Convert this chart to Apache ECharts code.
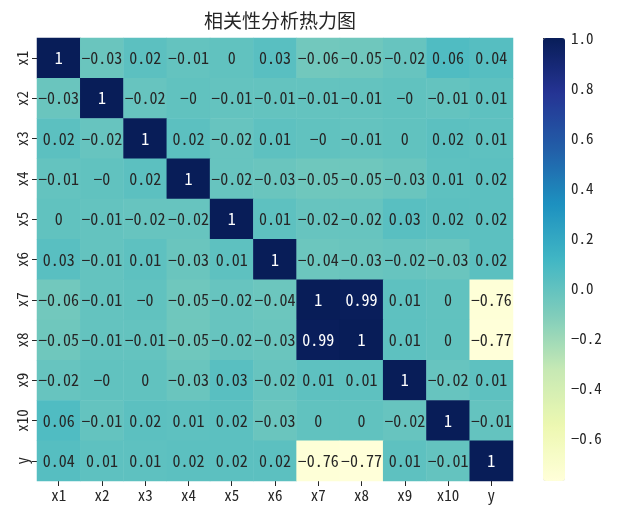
<!DOCTYPE html>
<html>
<head>
<meta charset="utf-8">
<script src="https://cdn.jsdelivr.net/npm/echarts@6/dist/echarts.min.js"></script>
<style>
	html, body { margin: 0; padding: 0; background: #fff; }
	#main { width: 623px; height: 520px; }
</style>
</head>
<body>
<div id="main"></div>
<script>
// 变量名 (行与列相同)
var names = ['x1', 'x2', 'x3', 'x4', 'x5', 'x6', 'x7', 'x8', 'x9', 'x10', 'y'];

// 相关系数矩阵, 每行一个变量 (-0 保留原图的 "-0")
var rowX1  = [1, -0.03, 0.02, -0.01, 0, 0.03, -0.06, -0.05, -0.02, 0.06, 0.04];
var rowX2  = [-0.03, 1, -0.02, -0, -0.01, -0.01, -0.01, -0.01, -0, -0.01, 0.01];
var rowX3  = [0.02, -0.02, 1, 0.02, -0.02, 0.01, -0, -0.01, 0, 0.02, 0.01];
var rowX4  = [-0.01, -0, 0.02, 1, -0.02, -0.03, -0.05, -0.05, -0.03, 0.01, 0.02];
var rowX5  = [0, -0.01, -0.02, -0.02, 1, 0.01, -0.02, -0.02, 0.03, 0.02, 0.02];
var rowX6  = [0.03, -0.01, 0.01, -0.03, 0.01, 1, -0.04, -0.03, -0.02, -0.03, 0.02];
var rowX7  = [-0.06, -0.01, -0, -0.05, -0.02, -0.04, 1, 0.99, 0.01, 0, -0.76];
var rowX8  = [-0.05, -0.01, -0.01, -0.05, -0.02, -0.03, 0.99, 1, 0.01, 0, -0.77];
var rowX9  = [-0.02, -0, 0, -0.03, 0.03, -0.02, 0.01, 0.01, 1, -0.02, 0.01];
var rowX10 = [0.06, -0.01, 0.02, 0.01, 0.02, -0.03, 0, 0, -0.02, 1, -0.01];
var rowY   = [0.04, 0.01, 0.01, 0.02, 0.02, 0.02, -0.76, -0.77, 0.01, -0.01, 1];

var matrix = [rowX1, rowX2, rowX3, rowX4, rowX5, rowX6, rowX7, rowX8, rowX9, rowX10, rowY];

// 色标范围与刻度
var cbMin = -0.77;
var cbMax = 1;
var cbTicks = [-0.6, -0.4, -0.2, 0, 0.2, 0.4, 0.6, 0.8, 1.0];

// YlGnBu
var ylgnbu = ['#ffffd9', '#edf8b1', '#c7e9b4', '#7fcdbb', '#41b6c4', '#1d91c0', '#225ea8', '#253494', '#081d58'];

var font = '"Noto Sans Mono CJK SC", "Noto Sans CJK SC", "DejaVu Sans", sans-serif';
var textColor = '#262626';

function fmt(v) {
	var s = String(Math.abs(v));
	if (v < 0 || (v === 0 && 1 / v < 0)) {
		return '\u2212' + s;
	}
	return s;
}

var data = [];
for (var r = 0; r < matrix.length; r++) {
	for (var c = 0; c < matrix[r].length; c++) {
		var v = matrix[r][c];
		data.push({
			value: [c, r, v],
			label: { color: v > 0.5 ? '#ffffff' : textColor }
		});
	}
}

var myChart = echarts.init(document.getElementById('main'), null, { renderer: 'canvas' });

myChart.setOption({
	backgroundColor: '#ffffff',
	animation: false,
	textStyle: { fontFamily: font },
	title: {
		text: '相关性分析热力图',
		left: 275,
		top: 6,
		textAlign: 'center',
		textStyle: { fontSize: 19, fontWeight: 'normal', color: textColor, fontFamily: font }
	},
	grid: [
		{ left: 37, top: 38, width: 476, height: 443 },
		{ left: 543, top: 38, width: 22, height: 443 }
	],
	xAxis: [
		{
			type: 'category',
			gridIndex: 0,
			data: names,
			position: 'bottom',
			axisLine: { show: false },
			axisTick: { show: true, alignWithLabel: true, length: 5, lineStyle: { color: textColor } },
			axisLabel: { color: textColor, fontSize: 15, margin: 7, fontFamily: font },
			splitLine: { show: false }
		},
		{
			type: 'value',
			gridIndex: 1,
			show: false
		}
	],
	yAxis: [
		{
			type: 'category',
			gridIndex: 0,
			data: names,
			inverse: true,
			axisLine: { show: false },
			axisTick: { show: true, alignWithLabel: true, length: 5, lineStyle: { color: textColor } },
			axisLabel: { color: textColor, fontSize: 15, rotate: 90, margin: 7, fontFamily: font },
			splitLine: { show: false }
		},
		{
			type: 'value',
			gridIndex: 1,
			position: 'right',
			min: cbMin,
			max: cbMax,
			axisLine: { show: false },
			axisTick: { show: true, length: 5, customValues: cbTicks, lineStyle: { color: textColor } },
			axisLabel: {
				color: textColor,
				fontSize: 15,
				margin: 6,
				fontFamily: font,
				customValues: cbTicks,
				formatter: function (v) { return fmt(Number(v.toFixed(1))).replace(/^(\u2212?\d)$/, '$1.0'); }
			},
			splitLine: { show: false }
		}
	],
	visualMap: {
		type: 'continuous',
		min: cbMin,
		max: cbMax,
		calculable: false,
		orient: 'vertical',
		left: 543,
		top: 38,
		padding: 0,
		itemWidth: 22,
		itemHeight: 443,
		text: null,
		showLabel: false,
		seriesIndex: 0,
		inRange: { color: ylgnbu }
	},
	series: [
		{
			type: 'heatmap',
			xAxisIndex: 0,
			yAxisIndex: 0,
			data: data,
			label: {
				show: true,
				fontSize: 16,
				fontFamily: font,
				formatter: function (p) { return fmt(p.value[2]); }
			},
			emphasis: { disabled: true }
		}
	]
});
</script>
</body>
</html>
